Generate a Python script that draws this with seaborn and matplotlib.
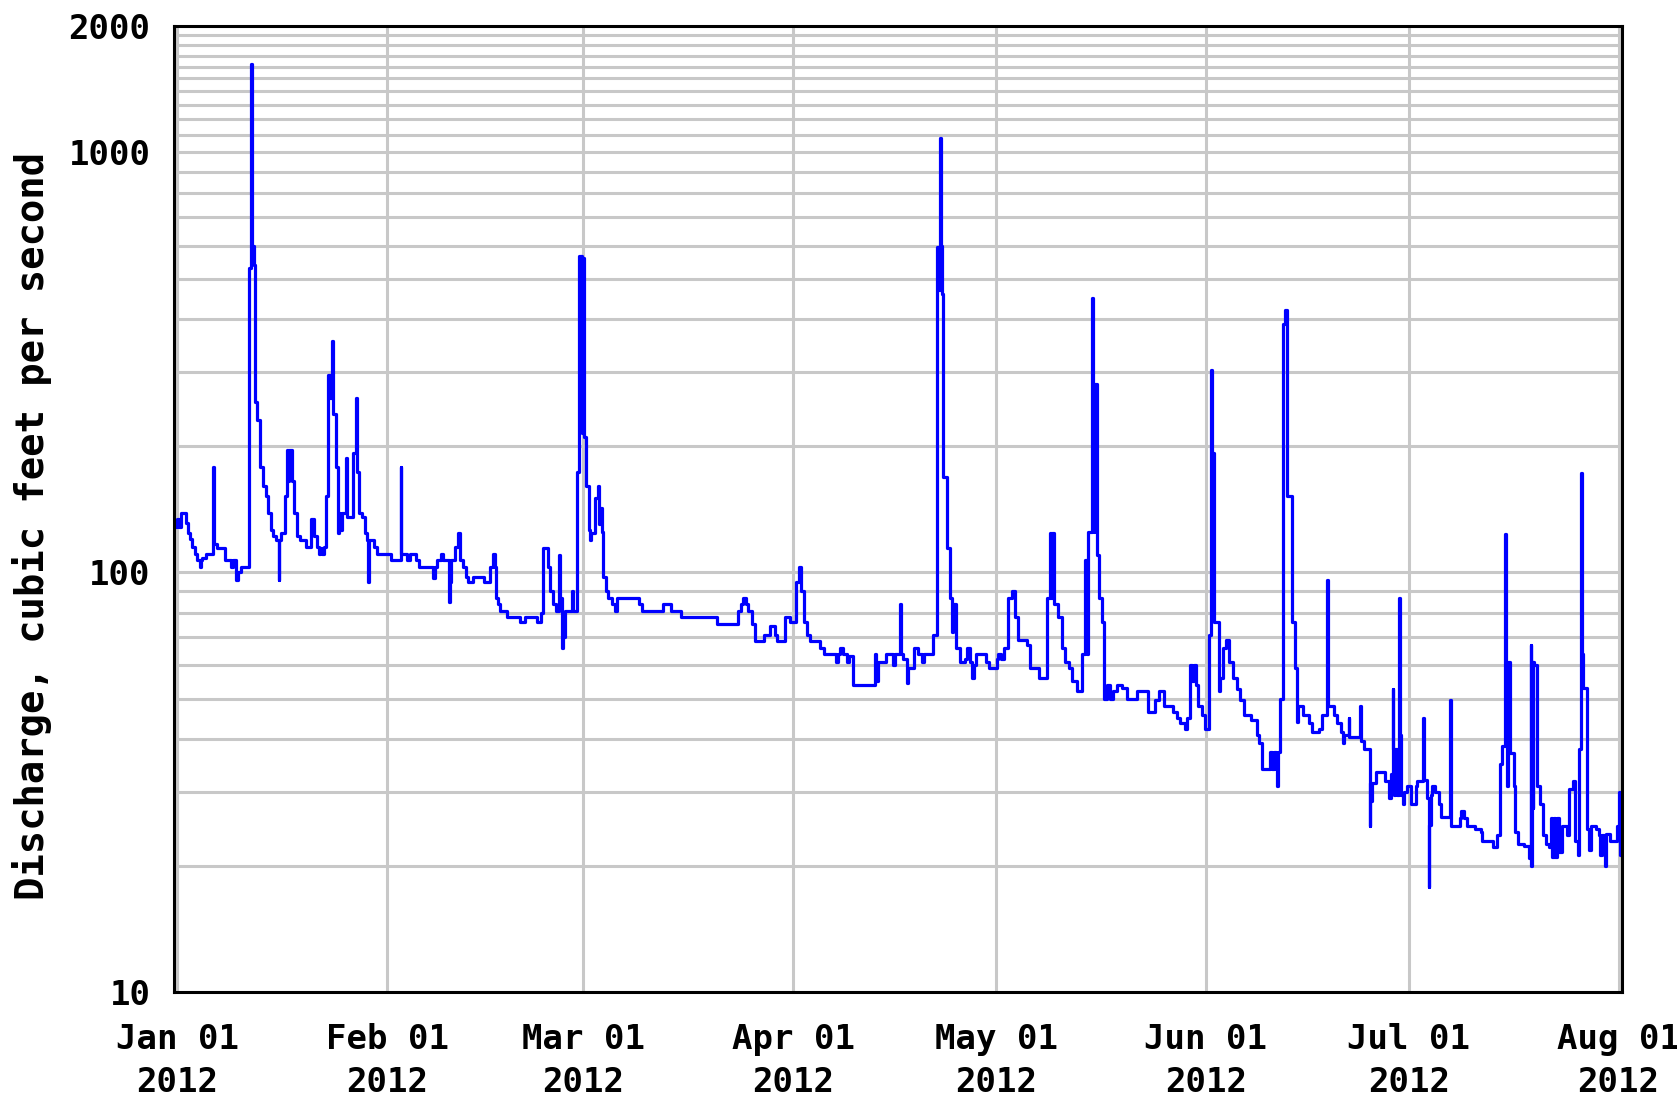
import numpy as np
import pandas as pd
import matplotlib
matplotlib.use("Agg")
import matplotlib.pyplot as plt
import matplotlib.dates as mdates
from matplotlib.ticker import FixedLocator, FixedFormatter, NullFormatter, NullLocator
import seaborn as sns

# ---------------- data ----------------
# time of the left edge of the chart; offsets below are days after it
t_left = "2011-12-31 12:00"
x_span_days = 214.0

jan_days = [0.0, 0.4, 0.7, 1.0, 1.7, 2.0, 2.4, 2.7, 3.1, 3.45, 3.8, 4.0, 4.2, 4.8, 5.75, 5.85, 6.4, 7.5, 8.4, 8.7, 9.1, 9.5, 9.86,
            11.09, 11.43, 11.55, 11.65, 11.75, 11.98, 12.32, 12.72, 13.11, 13.55, 13.9, 14.29, 14.69, 15.03, 15.45, 15.55, 15.77,
            16.36, 16.76, 16.9, 17.0, 17.5, 17.74, 18.14, 18.63, 19.47, 20.2, 20.7, 21.19, 21.4, 21.6, 21.8, 22.18, 22.42, 22.77,
            23.1, 23.41, 23.5, 23.9, 24.25, 24.4, 24.6, 24.89, 25.38, 25.5, 26.47, 26.86, 27.0, 27.35, 27.85, 28.19, 28.59, 28.68,
            28.8, 29.57, 30.06, 32.04, 33.5, 33.6, 34.5, 34.89, 35.73, 36.22]
jan_cfs = [128, 134, 128, 138, 131, 124, 120, 115, 110.5, 107, 103, 107, 108, 110.5, 178, 117, 114, 107, 103, 107, 96, 100, 103,
           530, 1620, 560, 600, 540, 255, 231, 178, 160, 152, 138, 126, 122, 119, 96, 119, 124,
           152, 195, 165, 195, 165, 138, 122, 119, 115, 134, 122, 115, 110.5, 114, 110.5, 115, 152, 295,
           260, 355, 238, 178, 124, 138, 126, 138, 187, 135, 192, 260, 173, 138, 135, 124, 119, 95,
           119, 115, 110.5, 107, 178, 110.5, 107, 110.5, 107, 103]

feb_days = [38.3, 38.5, 38.8, 39.4, 39.8, 40.7, 40.85, 41.0, 41.5, 41.9, 42.2, 42.7, 43.1, 43.5, 44.2, 45.8, 46.7, 47.1, 47.4,
            47.6, 47.9, 48.2, 49.2, 51.1, 51.9, 53.6, 54.2, 54.6, 55.2, 55.6, 56.0, 56.5, 56.9, 57.0, 57.3, 57.5, 57.8, 58.8,
            58.95, 59.5, 59.9, 60.1, 60.2, 60.35, 60.45, 60.6, 60.9, 61.3, 61.5, 61.7, 62.2, 62.7, 62.85, 62.9, 63.3, 63.4,
            63.8, 64.2, 64.7, 65.2, 65.5, 68.7, 69.1, 72.3, 73.5]
feb_cfs = [97, 103, 107, 110.5, 107, 85, 95, 107, 115, 124, 107, 103, 97.5, 95, 97.5, 95, 103, 110.5, 103,
           87, 84, 81, 78, 76, 78, 76, 80, 114, 103, 90, 84, 81, 110, 87, 66, 70, 81, 90,
           81, 173, 568, 220, 568, 215, 560, 210, 160, 126, 119, 124, 150, 160, 130, 142, 125, 97.5,
           90, 87, 84, 81, 87, 84, 81, 84, 81]

mar_days = [74.9, 80.2, 83.3, 83.8, 84.1, 84.5, 84.9, 85.4, 85.9, 87.2, 88.1, 88.8, 89.1, 90.3, 91.0, 91.9, 92.4, 92.6,
            93.1, 93.5, 94.0, 95.5, 96.0, 97.8, 98.1, 98.4, 98.9, 99.5, 99.8, 100.4, 103.6, 103.8, 104.1, 105.3, 106.3,
            106.6, 107.3, 107.45, 107.8, 108.3, 108.5, 109.3, 110.0]
mar_cfs = [78, 75.3, 81, 84, 87, 84, 81, 75.3, 68.5, 71, 74.6, 71, 68.5, 78, 76, 95, 103, 90,
           76, 71, 68.5, 66, 64, 61, 64, 66, 64, 61, 63, 54, 64, 55, 61, 64, 60,
           64, 84, 64, 62, 54.4, 59, 66, 64]

apr_days = [110.5, 110.8, 112.2, 112.8, 113.0, 113.2, 113.35, 113.5, 113.7, 114.2, 114.7, 115.0, 115.2, 115.6, 116.1,
            116.9, 117.2, 117.6, 118.0, 118.3, 118.6, 120.0, 120.4, 121.6, 121.8, 122.2, 122.6, 123.3, 123.8, 124.3,
            124.8, 126.0, 126.5, 127.8, 129.0, 129.4, 129.6, 129.8, 130.1, 130.7, 131.2, 131.7, 132.2, 132.7, 133.4,
            134.2, 134.7, 134.9, 135.1, 135.6, 135.75, 135.9, 136.0, 136.4, 136.7, 137.1, 137.5, 137.9, 138.3, 138.8,
            139.3, 140.1, 140.8, 142.3, 144.0]
apr_cfs = [61, 64, 71, 596, 470, 1084, 600, 459, 169, 114, 87, 72, 84, 66, 61,
           62, 66, 61, 56, 60, 64, 61, 59, 62, 64, 62, 66, 87, 90, 78,
           69, 67, 59, 56, 87, 124, 87, 124, 84, 78, 66, 61, 59, 55, 52,
           64, 107, 64, 125, 449, 280, 125, 280, 110, 87, 76, 50, 54, 50, 52,
           54, 53, 50, 52, 46.5]

jun_days = [145.0, 145.5, 146.3, 147.7, 148.2, 148.7, 149.4, 149.7, 150.1, 150.4, 150.7, 151.0, 151.4, 151.9, 152.4,
            152.9, 153.2, 153.4, 153.5, 153.6, 153.75, 154.4, 154.5, 154.6, 155.1, 155.5, 155.9, 156.5, 157.1, 157.6,
            158.2, 159.1, 160.0, 160.3, 160.8, 162.0, 162.3, 162.5, 162.8, 163.0, 163.2, 163.5, 163.9, 164.2, 164.5,
            165.2, 165.6, 165.9, 166.1, 166.9, 167.7, 168.2, 169.2, 169.6, 170.4, 170.55, 171.4, 171.9, 172.4, 172.7,
            172.9, 173.6, 173.7, 175.3, 175.45, 175.9, 176.7, 176.8, 176.9, 177.1, 177.7]
jun_cfs = [49.5, 52, 48, 46.5, 45, 43.7, 42.3, 45, 60, 55, 60, 54, 48, 45.8, 42.3,
           71, 303, 192, 80, 192, 76, 56, 52, 56, 66, 69, 61, 56, 52.7, 49.5,
           45.8, 44.4, 41, 39.1, 34, 37.3, 34, 37.3, 34, 31, 37.3, 50, 390, 421, 151.5,
           76, 59, 44, 48, 45.8, 43.7, 41.7, 42.3, 45.8, 96, 48, 45.8, 43.7, 41.7, 39.1,
           41, 45, 40.4, 48, 39.7, 37.9, 24.8, 31.4, 28.5, 31.4, 33.4]

jul_days = [178.9, 179.5, 179.8, 180.1, 180.2, 180.35, 180.5, 180.7, 181.05, 181.2, 181.4, 181.6, 181.8, 182.2, 182.8,
            183.5, 183.7, 184.6, 184.75, 185.2, 185.45, 185.55, 185.7, 185.9, 186.4, 186.9, 187.3, 188.6, 188.7, 190.0,
            190.2, 190.6, 191.1, 192.3, 193.1, 193.3, 195.0, 195.5, 195.9, 196.3, 196.75, 196.9, 197.0, 197.2, 197.5,
            198.0, 198.2, 198.6, 199.5, 200.2, 200.5, 200.6, 200.7, 200.8, 200.9, 201.05, 201.4, 201.9, 202.3, 202.7,
            203.2, 203.5, 203.7, 203.9, 204.1, 204.4, 204.7, 205.1, 205.9, 206.2, 206.7, 207.1, 207.5, 207.7, 207.9,
            208.1, 208.25, 208.8, 209.1, 209.4, 210.1, 210.6, 210.8, 211.1, 211.5, 211.6, 212.3, 213.2, 213.5, 213.7,
            213.8, 214.0]
jul_cfs = [31.9, 29, 33, 52.7, 38, 29.5, 38, 29.5, 87, 41, 29.5, 28, 30, 30.9, 28.1,
           30.9, 31.9, 45, 32, 29, 17.8, 25, 29.5, 31, 30, 28.1, 26.1, 49.5, 24.8, 26,
           27, 26, 24.8, 24.4, 24, 22.9, 22.1, 23.6, 35, 38.5, 123.4, 61, 31, 61, 37,
           31, 24, 22.5, 22.3, 20.8, 67, 20, 61, 27.5, 61, 60, 31, 28.1, 23.6, 22.5,
           22.2, 26, 21, 26, 21, 26, 21.5, 24.8, 23.6, 30.4, 31.9, 22.9, 21.2, 37.9, 172,
           64, 53, 24.4, 21.8, 24.8, 24.4, 23.6, 21.2, 23.6, 20, 23.8, 22.9, 24.8, 30, 21.2,
           30, 30]

y_major_ticks = [10, 100, 1000, 2000]
y_major_labels = ["10", "100", "1000", "2000"]
y_minor_ticks = [20, 30, 40, 50, 60, 70, 80, 90,
                 200, 300, 400, 500, 600, 700, 800, 900,
                 1100, 1200, 1300, 1400, 1500, 1600, 1700, 1800, 1900]
y_label = "Discharge, cubic feet per second"

# ---------------- build table ----------------
day_offset = jan_days + feb_days + mar_days + apr_days + jun_days + jul_days
discharge_cfs = jan_cfs + feb_cfs + mar_cfs + apr_cfs + jun_cfs + jul_cfs
assert len(day_offset) == len(discharge_cfs)
t0 = pd.Timestamp(t_left)
df = pd.DataFrame({
    "time": t0 + pd.to_timedelta(day_offset, unit="D"),
    "cfs": discharge_cfs,
})

# ---------------- style ----------------
sns.set_theme(style="white")
plt.rcParams["font.family"] = ["DejaVu Sans Mono"]
plt.rcParams["font.weight"] = "bold"
plt.rcParams["text.color"] = "black"
plt.rcParams["xtick.color"] = "black"
plt.rcParams["ytick.color"] = "black"
plt.rcParams["axes.labelcolor"] = "black"

W, H = 1677, 1098
fig = plt.figure(figsize=(W / 100, H / 100), dpi=100)
L, R, T, B = 174, 1622, 26, 992
ax = fig.add_axes([L / W, 1 - B / H, (R - L) / W, (B - T) / H])
ax.set_facecolor("white")

sns.lineplot(data=df, x="time", y="cfs", ax=ax, estimator=None, sort=True,
             drawstyle="steps-post", color="#0000ff", lw=2.3, zorder=3)

ax.set_yscale("log")
ax.set_ylim(10, 2000)
ax.set_xlim(t0, t0 + pd.Timedelta(days=x_span_days))

ax.yaxis.set_major_locator(FixedLocator(y_major_ticks))
ax.yaxis.set_major_formatter(FixedFormatter(y_major_labels))
ax.yaxis.set_minor_locator(FixedLocator(y_minor_ticks))
ax.yaxis.set_minor_formatter(NullFormatter())

ax.xaxis.set_major_locator(mdates.MonthLocator())
ax.xaxis.set_major_formatter(mdates.DateFormatter("%b %d\n%Y"))
ax.xaxis.set_minor_locator(NullLocator())

grid_kw = dict(color="#c8c8c8", lw=2.2)
ax.grid(True, which="both", axis="y", **grid_kw)
ax.grid(True, which="major", axis="x", **grid_kw)
ax.set_axisbelow(True)

ax.tick_params(axis="both", which="both", length=0, colors="black")
ax.tick_params(axis="y", labelsize=24.5, pad=17)
ax.tick_params(axis="x", labelsize=24.5, pad=22)
fig.canvas.draw()
for lab in ax.get_xticklabels():
    lab.set_linespacing(1.42)

for s in ax.spines.values():
    s.set_visible(True)
    s.set_color("black")
    s.set_linewidth(2.2)
    s.set_zorder(5)

ax.set_xlabel("")
ax.set_ylabel(y_label, fontsize=28, fontweight="bold", va="center", color="black")
ax.yaxis.set_label_coords((32 - L) / (R - L), (B - 526) / (B - T))

fig.savefig("out.png", dpi=100, facecolor="white")
